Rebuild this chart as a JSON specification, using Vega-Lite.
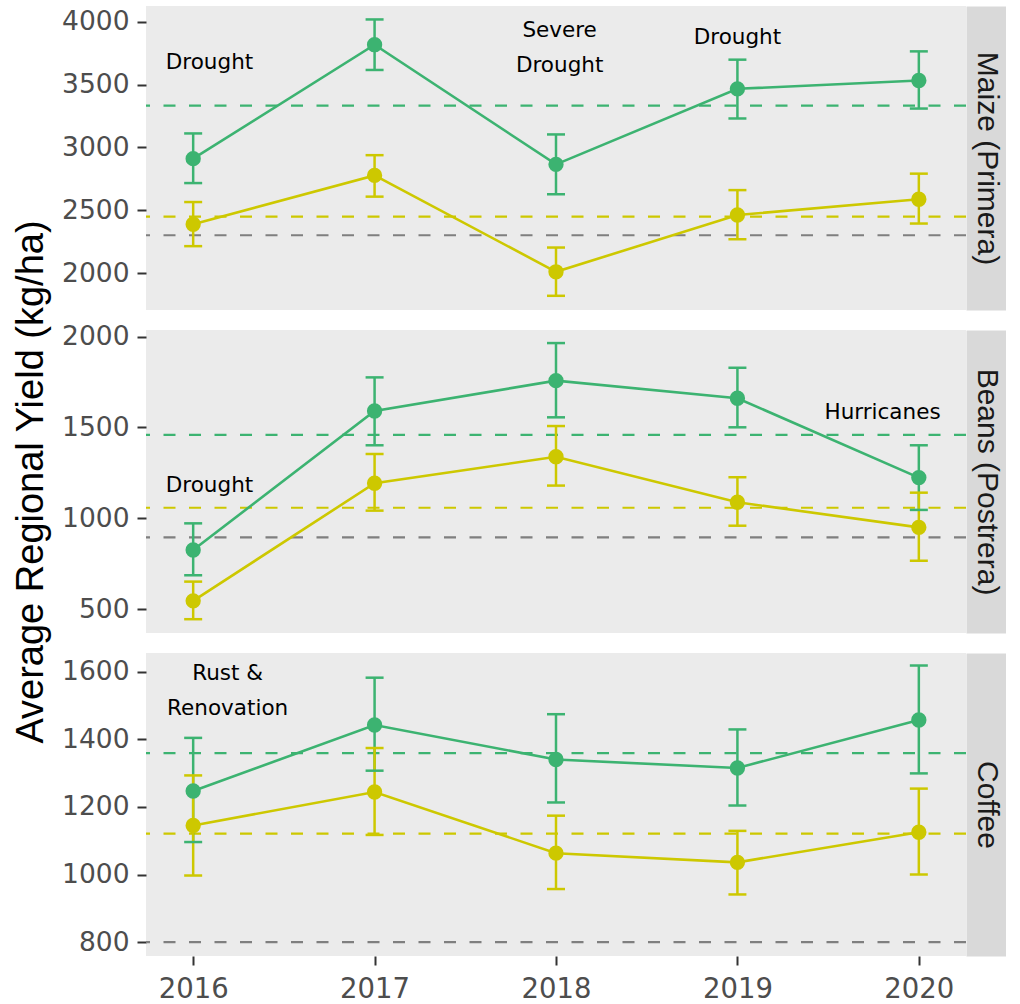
{
  "$schema": "https://vega.github.io/schema/vega-lite/v6.json",
  "background": "white",
  "padding": {"left": 12, "top": 6, "right": 5, "bottom": 5},
  "spacing": 20,
  "bounds": "flush",
  "datasets": {
    "yields": [
      {"crop": "Maize (Primera)", "series": "high", "year": 2016, "mean": 2910, "lo": 2716, "hi": 3111},
      {"crop": "Maize (Primera)", "series": "high", "year": 2017, "mean": 3817, "lo": 3616, "hi": 4018},
      {"crop": "Maize (Primera)", "series": "high", "year": 2018, "mean": 2865, "lo": 2627, "hi": 3103},
      {"crop": "Maize (Primera)", "series": "high", "year": 2019, "mean": 3466, "lo": 3230, "hi": 3698},
      {"crop": "Maize (Primera)", "series": "high", "year": 2020, "mean": 3532, "lo": 3309, "hi": 3764},
      {"crop": "Maize (Primera)", "series": "low", "year": 2016, "mean": 2388, "lo": 2214, "hi": 2565},
      {"crop": "Maize (Primera)", "series": "low", "year": 2017, "mean": 2777, "lo": 2608, "hi": 2938},
      {"crop": "Maize (Primera)", "series": "low", "year": 2018, "mean": 2010, "lo": 1819, "hi": 2203},
      {"crop": "Maize (Primera)", "series": "low", "year": 2019, "mean": 2462, "lo": 2269, "hi": 2660},
      {"crop": "Maize (Primera)", "series": "low", "year": 2020, "mean": 2587, "lo": 2394, "hi": 2791},
      {"crop": "Beans (Postrera)", "series": "high", "year": 2016, "mean": 825, "lo": 686, "hi": 972},
      {"crop": "Beans (Postrera)", "series": "high", "year": 2017, "mean": 1591, "lo": 1402, "hi": 1776},
      {"crop": "Beans (Postrera)", "series": "high", "year": 2018, "mean": 1758, "lo": 1556, "hi": 1965},
      {"crop": "Beans (Postrera)", "series": "high", "year": 2019, "mean": 1661, "lo": 1501, "hi": 1829},
      {"crop": "Beans (Postrera)", "series": "high", "year": 2020, "mean": 1224, "lo": 1046, "hi": 1402},
      {"crop": "Beans (Postrera)", "series": "low", "year": 2016, "mean": 545, "lo": 444, "hi": 651},
      {"crop": "Beans (Postrera)", "series": "low", "year": 2017, "mean": 1193, "lo": 1042, "hi": 1354},
      {"crop": "Beans (Postrera)", "series": "low", "year": 2018, "mean": 1339, "lo": 1180, "hi": 1508},
      {"crop": "Beans (Postrera)", "series": "low", "year": 2019, "mean": 1088, "lo": 959, "hi": 1226},
      {"crop": "Beans (Postrera)", "series": "low", "year": 2020, "mean": 950, "lo": 766, "hi": 1141},
      {"crop": "Coffee", "series": "high", "year": 2016, "mean": 1247, "lo": 1096, "hi": 1404},
      {"crop": "Coffee", "series": "high", "year": 2017, "mean": 1442, "lo": 1307, "hi": 1582},
      {"crop": "Coffee", "series": "high", "year": 2018, "mean": 1340, "lo": 1213, "hi": 1474},
      {"crop": "Coffee", "series": "high", "year": 2019, "mean": 1315, "lo": 1204, "hi": 1429},
      {"crop": "Coffee", "series": "high", "year": 2020, "mean": 1457, "lo": 1299, "hi": 1618},
      {"crop": "Coffee", "series": "low", "year": 2016, "mean": 1145, "lo": 997, "hi": 1293},
      {"crop": "Coffee", "series": "low", "year": 2017, "mean": 1244, "lo": 1117, "hi": 1374},
      {"crop": "Coffee", "series": "low", "year": 2018, "mean": 1063, "lo": 957, "hi": 1174},
      {"crop": "Coffee", "series": "low", "year": 2019, "mean": 1036, "lo": 941, "hi": 1129},
      {"crop": "Coffee", "series": "low", "year": 2020, "mean": 1125, "lo": 1000, "hi": 1254}
    ],
    "refs": [
      {"crop": "Maize (Primera)", "series": "high", "value": 3333},
      {"crop": "Maize (Primera)", "series": "low", "value": 2449},
      {"crop": "Maize (Primera)", "series": "baseline", "value": 2301},
      {"crop": "Beans (Postrera)", "series": "high", "value": 1459},
      {"crop": "Beans (Postrera)", "series": "low", "value": 1058},
      {"crop": "Beans (Postrera)", "series": "baseline", "value": 895},
      {"crop": "Coffee", "series": "high", "value": 1359},
      {"crop": "Coffee", "series": "low", "value": 1121},
      {"crop": "Coffee", "series": "baseline", "value": 800}
    ],
    "notes": [
      {"crop": "Maize (Primera)", "year": 2016.09, "value": 3675, "label": "Drought"},
      {"crop": "Maize (Primera)", "year": 2018.02, "value": 3929, "label": "Severe\nDrought"},
      {"crop": "Maize (Primera)", "year": 2019.0, "value": 3872, "label": "Drought"},
      {"crop": "Beans (Postrera)", "year": 2016.09, "value": 1175, "label": "Drought"},
      {"crop": "Beans (Postrera)", "year": 2019.8, "value": 1580, "label": "Hurricanes"},
      {"crop": "Coffee", "year": 2016.19, "value": 1594, "label": "Rust &\nRenovation"}
    ]
  },
  "vconcat": [
    {
      "width": 820, "height": 304,
      "resolve": {"axis": {"y": "independent"}},
      "layer": [
        {
          "data": {"name": "refs"},
          "transform": [{"filter": "datum.crop === 'Maize (Primera)'"}],
          "mark": {"type": "rule", "strokeDash": [12, 13.5], "strokeWidth": 2.2},
          "encoding": {
            "y": {"field": "value", "type": "quantitative", "scale": {"domain": [1706, 4125], "nice": false, "zero": false},
                  "axis": {"orient": "left", "values": [2000, 2500, 3000, 3500, 4000], "format": "d", "title": null}},
            "color": {"field": "series", "type": "nominal", "scale": {"domain": ["high", "low", "baseline"], "range": ["#3CB371", "#CDC800", "#7F7F7F"]}, "legend": null}
          }
        },
        {
          "data": {"name": "yields"},
          "transform": [{"filter": "datum.crop === 'Maize (Primera)'"}],
          "mark": {"type": "rule", "strokeWidth": 2.5},
          "encoding": {
            "x": {"field": "year", "type": "quantitative", "scale": {"domain": [2015.74, 2020.26], "nice": false, "zero": false}, "axis": null},
            "y": {"field": "lo", "type": "quantitative", "axis": null},
            "y2": {"field": "hi"},
            "color": {"field": "series", "type": "nominal", "legend": null}
          }
        },
        {
          "data": {"name": "yields"},
          "transform": [{"filter": "datum.crop === 'Maize (Primera)'"}],
          "mark": {"type": "tick", "orient": "horizontal", "size": 18, "thickness": 2.5, "opacity": 1},
          "encoding": {
            "x": {"field": "year", "type": "quantitative", "axis": null},
            "y": {"field": "lo", "type": "quantitative", "axis": null},
            "color": {"field": "series", "type": "nominal", "legend": null}
          }
        },
        {
          "data": {"name": "yields"},
          "transform": [{"filter": "datum.crop === 'Maize (Primera)'"}],
          "mark": {"type": "tick", "orient": "horizontal", "size": 18, "thickness": 2.5, "opacity": 1},
          "encoding": {
            "x": {"field": "year", "type": "quantitative", "axis": null},
            "y": {"field": "hi", "type": "quantitative", "axis": null},
            "color": {"field": "series", "type": "nominal", "legend": null}
          }
        },
        {
          "data": {"name": "yields"},
          "transform": [{"filter": "datum.crop === 'Maize (Primera)'"}],
          "mark": {"type": "line", "strokeWidth": 2.6},
          "encoding": {
            "x": {"field": "year", "type": "quantitative", "axis": null},
            "y": {"field": "mean", "type": "quantitative", "axis": null},
            "color": {"field": "series", "type": "nominal", "legend": null}
          }
        },
        {
          "data": {"name": "yields"},
          "transform": [{"filter": "datum.crop === 'Maize (Primera)'"}],
          "mark": {"type": "point", "filled": true, "size": 235, "opacity": 1},
          "encoding": {
            "x": {"field": "year", "type": "quantitative", "axis": null},
            "y": {"field": "mean", "type": "quantitative",
                  "axis": {"orient": "right", "domain": true, "domainColor": "#D9D9D9", "domainWidth": 40, "offset": 20, "ticks": false, "labels": false, "grid": false,
                           "title": "Maize (Primera)", "titleAngle": 90, "titleBaseline": "middle", "titleAlign": "center", "titleX": 0, "titleFont": "Liberation Sans", "titleFontSize": 30, "titleFontWeight": "normal", "titleColor": "#1A1A1A"}},
            "color": {"field": "series", "type": "nominal", "legend": null}
          }
        },
        {
          "data": {"name": "notes"},
          "transform": [{"filter": "datum.crop === 'Maize (Primera)'"}],
          "mark": {"type": "text", "font": "DejaVu Sans", "fontSize": 21.5, "color": "#000000", "lineBreak": "\n", "lineHeight": 35, "align": "center", "baseline": "middle"},
          "encoding": {
            "x": {"field": "year", "type": "quantitative", "axis": null},
            "y": {"field": "value", "type": "quantitative", "axis": null},
            "text": {"field": "label"}
          }
        }
      ]
    },
    {
      "width": 820, "height": 303,
      "resolve": {"axis": {"y": "independent"}},
      "layer": [
        {
          "data": {"name": "refs"},
          "transform": [{"filter": "datum.crop === 'Beans (Postrera)'"}],
          "mark": {"type": "rule", "strokeDash": [12, 13.5], "strokeWidth": 2.2},
          "encoding": {
            "y": {"field": "value", "type": "quantitative", "scale": {"domain": [368, 2037], "nice": false, "zero": false},
                  "axis": {"orient": "left", "values": [500, 1000, 1500, 2000], "format": "d", "title": "Average Regional Yield (kg/ha)", "titlePadding": 11}},
            "color": {"field": "series", "type": "nominal", "scale": {"domain": ["high", "low", "baseline"], "range": ["#3CB371", "#CDC800", "#7F7F7F"]}, "legend": null}
          }
        },
        {
          "data": {"name": "yields"},
          "transform": [{"filter": "datum.crop === 'Beans (Postrera)'"}],
          "mark": {"type": "rule", "strokeWidth": 2.5},
          "encoding": {
            "x": {"field": "year", "type": "quantitative", "scale": {"domain": [2015.74, 2020.26], "nice": false, "zero": false}, "axis": null},
            "y": {"field": "lo", "type": "quantitative", "axis": null},
            "y2": {"field": "hi"},
            "color": {"field": "series", "type": "nominal", "legend": null}
          }
        },
        {
          "data": {"name": "yields"},
          "transform": [{"filter": "datum.crop === 'Beans (Postrera)'"}],
          "mark": {"type": "tick", "orient": "horizontal", "size": 18, "thickness": 2.5, "opacity": 1},
          "encoding": {
            "x": {"field": "year", "type": "quantitative", "axis": null},
            "y": {"field": "lo", "type": "quantitative", "axis": null},
            "color": {"field": "series", "type": "nominal", "legend": null}
          }
        },
        {
          "data": {"name": "yields"},
          "transform": [{"filter": "datum.crop === 'Beans (Postrera)'"}],
          "mark": {"type": "tick", "orient": "horizontal", "size": 18, "thickness": 2.5, "opacity": 1},
          "encoding": {
            "x": {"field": "year", "type": "quantitative", "axis": null},
            "y": {"field": "hi", "type": "quantitative", "axis": null},
            "color": {"field": "series", "type": "nominal", "legend": null}
          }
        },
        {
          "data": {"name": "yields"},
          "transform": [{"filter": "datum.crop === 'Beans (Postrera)'"}],
          "mark": {"type": "line", "strokeWidth": 2.6},
          "encoding": {
            "x": {"field": "year", "type": "quantitative", "axis": null},
            "y": {"field": "mean", "type": "quantitative", "axis": null},
            "color": {"field": "series", "type": "nominal", "legend": null}
          }
        },
        {
          "data": {"name": "yields"},
          "transform": [{"filter": "datum.crop === 'Beans (Postrera)'"}],
          "mark": {"type": "point", "filled": true, "size": 235, "opacity": 1},
          "encoding": {
            "x": {"field": "year", "type": "quantitative", "axis": null},
            "y": {"field": "mean", "type": "quantitative",
                  "axis": {"orient": "right", "domain": true, "domainColor": "#D9D9D9", "domainWidth": 40, "offset": 20, "ticks": false, "labels": false, "grid": false,
                           "title": "Beans (Postrera)", "titleAngle": 90, "titleBaseline": "middle", "titleAlign": "center", "titleX": 0, "titleFont": "Liberation Sans", "titleFontSize": 30, "titleFontWeight": "normal", "titleColor": "#1A1A1A"}},
            "color": {"field": "series", "type": "nominal", "legend": null}
          }
        },
        {
          "data": {"name": "notes"},
          "transform": [{"filter": "datum.crop === 'Beans (Postrera)'"}],
          "mark": {"type": "text", "font": "DejaVu Sans", "fontSize": 21.5, "color": "#000000", "lineBreak": "\n", "lineHeight": 35, "align": "center", "baseline": "middle"},
          "encoding": {
            "x": {"field": "year", "type": "quantitative", "axis": null},
            "y": {"field": "value", "type": "quantitative", "axis": null},
            "text": {"field": "label"}
          }
        }
      ]
    },
    {
      "width": 820, "height": 303,
      "resolve": {"axis": {"y": "independent"}},
      "layer": [
        {
          "data": {"name": "refs"},
          "transform": [{"filter": "datum.crop === 'Coffee'"}],
          "mark": {"type": "rule", "strokeDash": [12, 13.5], "strokeWidth": 2.2},
          "encoding": {
            "y": {"field": "value", "type": "quantitative", "scale": {"domain": [759, 1655], "nice": false, "zero": false},
                  "axis": {"orient": "left", "values": [800, 1000, 1200, 1400, 1600], "format": "d", "title": null}},
            "color": {"field": "series", "type": "nominal", "scale": {"domain": ["high", "low", "baseline"], "range": ["#3CB371", "#CDC800", "#7F7F7F"]}, "legend": null}
          }
        },
        {
          "data": {"name": "yields"},
          "transform": [{"filter": "datum.crop === 'Coffee'"}],
          "mark": {"type": "rule", "strokeWidth": 2.5},
          "encoding": {
            "x": {"field": "year", "type": "quantitative", "scale": {"domain": [2015.74, 2020.26], "nice": false, "zero": false},
                  "axis": {"values": [2016, 2017, 2018, 2019, 2020], "format": "d", "title": null, "labelFontSize": 27.5, "labelPadding": 10}},
            "y": {"field": "lo", "type": "quantitative", "axis": null},
            "y2": {"field": "hi"},
            "color": {"field": "series", "type": "nominal", "legend": null}
          }
        },
        {
          "data": {"name": "yields"},
          "transform": [{"filter": "datum.crop === 'Coffee'"}],
          "mark": {"type": "tick", "orient": "horizontal", "size": 18, "thickness": 2.5, "opacity": 1},
          "encoding": {
            "x": {"field": "year", "type": "quantitative"},
            "y": {"field": "lo", "type": "quantitative", "axis": null},
            "color": {"field": "series", "type": "nominal", "legend": null}
          }
        },
        {
          "data": {"name": "yields"},
          "transform": [{"filter": "datum.crop === 'Coffee'"}],
          "mark": {"type": "tick", "orient": "horizontal", "size": 18, "thickness": 2.5, "opacity": 1},
          "encoding": {
            "x": {"field": "year", "type": "quantitative"},
            "y": {"field": "hi", "type": "quantitative", "axis": null},
            "color": {"field": "series", "type": "nominal", "legend": null}
          }
        },
        {
          "data": {"name": "yields"},
          "transform": [{"filter": "datum.crop === 'Coffee'"}],
          "mark": {"type": "line", "strokeWidth": 2.6},
          "encoding": {
            "x": {"field": "year", "type": "quantitative"},
            "y": {"field": "mean", "type": "quantitative", "axis": null},
            "color": {"field": "series", "type": "nominal", "legend": null}
          }
        },
        {
          "data": {"name": "yields"},
          "transform": [{"filter": "datum.crop === 'Coffee'"}],
          "mark": {"type": "point", "filled": true, "size": 235, "opacity": 1},
          "encoding": {
            "x": {"field": "year", "type": "quantitative"},
            "y": {"field": "mean", "type": "quantitative",
                  "axis": {"orient": "right", "domain": true, "domainColor": "#D9D9D9", "domainWidth": 40, "offset": 20, "ticks": false, "labels": false, "grid": false,
                           "title": "Coffee", "titleAngle": 90, "titleBaseline": "middle", "titleAlign": "center", "titleX": 0, "titleFont": "Liberation Sans", "titleFontSize": 30, "titleFontWeight": "normal", "titleColor": "#1A1A1A"}},
            "color": {"field": "series", "type": "nominal", "legend": null}
          }
        },
        {
          "data": {"name": "notes"},
          "transform": [{"filter": "datum.crop === 'Coffee'"}],
          "mark": {"type": "text", "font": "DejaVu Sans", "fontSize": 21.5, "color": "#000000", "lineBreak": "\n", "lineHeight": 35, "align": "center", "baseline": "middle"},
          "encoding": {
            "x": {"field": "year", "type": "quantitative"},
            "y": {"field": "value", "type": "quantitative", "axis": null},
            "text": {"field": "label"}
          }
        }
      ]
    }
  ],
  "config": {
    "view": {"fill": "#EBEBEB", "stroke": null},
    "axis": {
      "grid": false, "domain": false,
      "tickColor": "#333333", "tickWidth": 2, "tickSize": 9,
      "labelFont": "DejaVu Sans", "labelFontSize": 26.5, "labelColor": "#4D4D4D", "labelPadding": 8,
      "titleFont": "Liberation Sans", "titleFontSize": 38, "titleFontWeight": "normal", "titleColor": "#000000", "titlePadding": 6
    }
  }
}
